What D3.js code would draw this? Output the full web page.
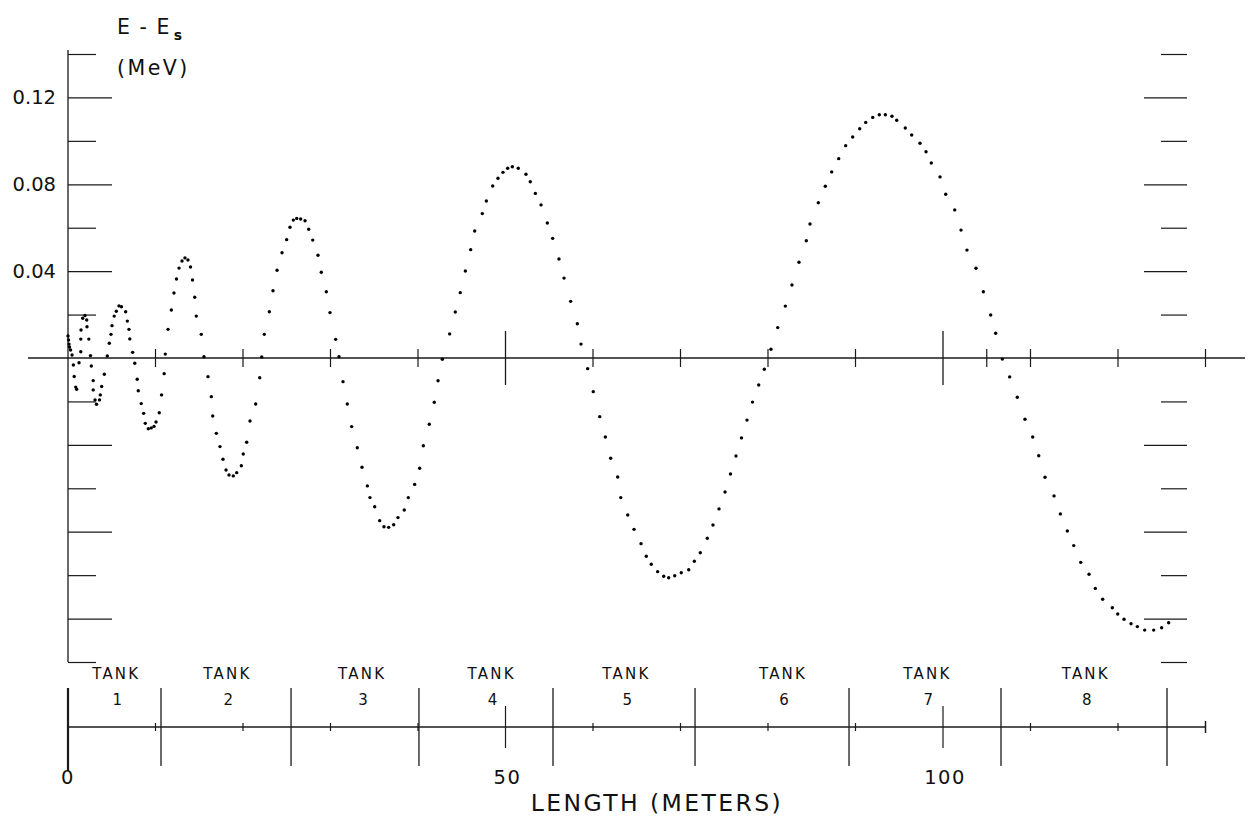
<!DOCTYPE html>
<html><head><meta charset="utf-8">
<script src="https://cdn.jsdelivr.net/npm/d3@7"></script>
<style>
body{margin:0;background:#fff}
svg{display:block}
text{font-family:"DejaVu Sans",sans-serif;fill:#111}
</style>
</head><body>
<svg id="c" width="1251" height="818"></svg>
<script>
// ---- data ----
const lengthM = [0,0.06,0.11,0.17,0.29,0.46,0.61,0.71,0.88,0.99,1.26,1.46,1.46,1.49,1.68,1.94,2.14,2.17,2.38,2.57,2.66,2.88,2.88,3.09,3.26,3.60,3.69,3.85,4.15,4.49,4.72,4.91,5.03,5.28,5.52,5.83,6.11,6.59,6.78,6.97,7.06,7.39,7.63,7.91,8.03,8.37,8.65,8.83,9.18,9.51,9.83,10.06,10.43,10.69,10.99,11.12,11.43,11.81,12.11,12.40,12.69,13.03,13.37,13.71,14.00,14.23,14.48,14.66,15.23,15.54,16.00,16.38,16.54,16.95,17.37,17.71,18.06,18.40,18.89,19.28,19.81,20.03,20.42,20.80,21.45,21.91,22.14,22.43,23.01,23.43,23.89,24.46,24.99,25.37,25.75,26.14,26.59,27.09,27.51,27.97,28.57,28.95,29.52,29.94,30.59,30.97,31.43,31.92,32.42,33.06,33.60,34.21,34.51,35.05,35.62,36.11,36.65,37.22,37.71,38.43,38.89,39.62,40.19,40.61,41.29,41.86,42.29,42.78,43.62,44.26,44.83,45.41,46.02,46.48,47.35,47.81,48.54,49.14,49.71,50.25,50.78,51.46,52.34,52.83,53.41,54.06,54.78,55.39,56.11,56.69,57.45,58.21,58.63,59.39,60.03,60.77,61.41,62.02,62.82,63.17,63.97,64.69,65.49,66.09,66.66,67.39,68.08,68.65,69.34,70.09,70.94,71.58,72.26,73.06,73.71,74.40,75.09,75.71,76.34,76.97,77.60,78.23,78.94,79.58,80.34,81.11,81.98,82.74,83.54,84.38,84.80,85.75,86.55,87.28,88.08,88.88,89.68,90.48,91.17,91.97,92.72,93.41,94.17,94.71,95.69,96.42,97.37,98.06,98.66,99.66,100.31,101.34,102.06,102.74,103.77,104.61,105.45,106.02,106.78,107.62,108.49,109.37,110.25,110.94,111.66,112.69,113.41,114.21,114.94,115.74,116.69,117.41,118.25,119.35,119.97,120.69,121.49,122.21,123.05,124.08,124.99,125.79];
const deltaE = [0.0101,0.0083,0.0064,0.0051,0.0037,0.0014,-0.0032,-0.0085,-0.0134,-0.0144,-0.0022,0.0029,0.0087,0.0129,0.0183,0.0196,0.0175,0.0144,0.0087,0.0011,-0.0037,-0.0104,-0.0147,-0.0193,-0.0213,-0.0193,-0.0170,-0.0131,-0.0075,0.0009,0.0068,0.0109,0.0149,0.0193,0.0215,0.0240,0.0236,0.0213,0.0170,0.0132,0.0088,0.0026,-0.0024,-0.0098,-0.0151,-0.0210,-0.0255,-0.0301,-0.0326,-0.0322,-0.0315,-0.0295,-0.0252,-0.0170,-0.0072,0.0018,0.0132,0.0221,0.0299,0.0364,0.0414,0.0447,0.0461,0.0451,0.0419,0.0359,0.0280,0.0193,0.0109,0.0006,-0.0086,-0.0178,-0.0267,-0.0347,-0.0408,-0.0466,-0.0516,-0.0539,-0.0543,-0.0528,-0.0496,-0.0442,-0.0388,-0.0290,-0.0212,-0.0091,0.0005,0.0109,0.0213,0.0310,0.0404,0.0485,0.0545,0.0602,0.0635,0.0643,0.0640,0.0632,0.0593,0.0543,0.0473,0.0395,0.0305,0.0209,0.0086,0.0006,-0.0109,-0.0212,-0.0316,-0.0413,-0.0503,-0.0589,-0.0643,-0.0685,-0.0749,-0.0777,-0.0780,-0.0768,-0.0735,-0.0700,-0.0643,-0.0582,-0.0508,-0.0404,-0.0305,-0.0204,-0.0105,-0.0006,0.0111,0.0212,0.0301,0.0401,0.0499,0.0585,0.0665,0.0723,0.0792,0.0828,0.0855,0.0874,0.0881,0.0874,0.0846,0.0812,0.0758,0.0705,0.0622,0.0551,0.0456,0.0368,0.0261,0.0158,0.0064,-0.0049,-0.0155,-0.0270,-0.0364,-0.0462,-0.0548,-0.0643,-0.0723,-0.0789,-0.0855,-0.0913,-0.0950,-0.0984,-0.1005,-0.1012,-0.1003,-0.0989,-0.0975,-0.0936,-0.0897,-0.0830,-0.0769,-0.0695,-0.0617,-0.0534,-0.0451,-0.0368,-0.0286,-0.0203,-0.0124,-0.0052,0.0040,0.0140,0.0239,0.0336,0.0441,0.0540,0.0617,0.0715,0.0791,0.0857,0.0918,0.0978,0.1018,0.1056,0.1085,0.1108,0.1120,0.1120,0.1113,0.1095,0.1059,0.1027,0.0989,0.0950,0.0898,0.0834,0.0754,0.0682,0.0589,0.0497,0.0413,0.0305,0.0198,0.0114,-0.0005,-0.0087,-0.0181,-0.0282,-0.0364,-0.0450,-0.0549,-0.0635,-0.0718,-0.0797,-0.0864,-0.0941,-0.0996,-0.1061,-0.1111,-0.1150,-0.1179,-0.1203,-0.1224,-0.1237,-0.1253,-0.1253,-0.1242,-0.1219];

const tankEdges = [0, 10.63, 25.49, 40.11, 55.43, 71.66, 89.26, 106.63, 125.6];
const tankNames = ["1","2","3","4","5","6","7","8"];
const tankLabelCentres = [5.4, 18.1, 33.5, 48.3, 63.7, 81.6, 98.1, 116.2];
const yMajorTicks = [-0.12,-0.08,-0.04,0.04,0.08,0.12];
const yMinorTicks = [-0.14,-0.10,-0.06,-0.02,0.02,0.06,0.10,0.14];
const yTickLabels = [0.04,0.08,0.12];
const xMinorTicks = [10,20,30,40,60,70,80,90,105,110,120,130];
const xMajorTicks = [50,100];
const xTickLabels = [0,50,100];
const tankMinorTicks = [10,20,30,40,60,70,80,90,110,120];

// ---- drawing ----
const svg = d3.select("#c");
const x = d3.scaleLinear().domain([0,130]).range([68,1205.5]);
const y = d3.scaleLinear().domain([-0.14,0.14]).range([662,54]);
const ink = "#1a1a1a";
const y0 = y(0);

// left axis line
svg.append("line").attr("x1",x(0)).attr("x2",x(0)).attr("y1",50).attr("y2",662)
  .attr("stroke",ink).attr("stroke-width",1.3);

function tickAxis(axis, tx, values, size){
  const g = svg.append("g").attr("transform",`translate(${tx},0)`)
    .call(axis(y).tickValues(values).tickSize(size).tickFormat(""));
  g.select(".domain").remove();
  g.selectAll(".tick line").attr("stroke",ink).attr("stroke-width",1.2);
  return g;
}
tickAxis(d3.axisRight, x(0), yMajorTicks, 44);
tickAxis(d3.axisRight, x(0), yMinorTicks, 28);
tickAxis(d3.axisLeft, 1187, yMajorTicks, 43);
tickAxis(d3.axisLeft, 1187, yMinorTicks, 26);

// y labels
svg.selectAll(".ylab").data(yTickLabels).enter().append("text")
  .attr("x",56).attr("y",d=>y(d)+7).attr("text-anchor","end")
  .attr("font-size",19.5).text(d=>d3.format(".2f")(d));

// y title
const t1 = svg.append("text").attr("x",117).attr("y",34).attr("font-size",20.5).attr("letter-spacing",1.5);
t1.append("tspan").text("E - E");
t1.append("tspan").attr("dy",6).attr("dx",3).attr("font-size",14).attr("font-weight","bold").text("s");
svg.append("text").attr("x",117).attr("y",75).attr("font-size",20.5).attr("letter-spacing",2.5).text("(MeV)");

// zero line
svg.append("line").attr("x1",28).attr("x2",1245).attr("y1",y0).attr("y2",y0)
  .attr("stroke",ink).attr("stroke-width",1.4);
svg.selectAll(".xminor").data(xMinorTicks).enter().append("line")
  .attr("x1",d=>x(d)).attr("x2",d=>x(d)).attr("y1",y0-9).attr("y2",y0+9)
  .attr("stroke",ink).attr("stroke-width",1.2);
svg.selectAll(".xmajor").data(xMajorTicks).enter().append("line")
  .attr("x1",d=>x(d)).attr("x2",d=>x(d)).attr("y1",y0-27).attr("y2",y0+27)
  .attr("stroke",ink).attr("stroke-width",1.3);

// dots
svg.selectAll(".dot").data(lengthM.map((v,i)=>[v,deltaE[i]])).enter().append("circle")
  .attr("cx",d=>x(d[0])).attr("cy",d=>y(d[1])).attr("r",1.7).attr("fill","#000");

// tank axis
const ty = 727;
svg.append("line").attr("x1",x(0)).attr("x2",x(130)).attr("y1",ty).attr("y2",ty)
  .attr("stroke",ink).attr("stroke-width",1.3);
svg.selectAll(".tminor").data(tankMinorTicks).enter().append("line")
  .attr("x1",d=>x(d)).attr("x2",d=>x(d)).attr("y1",ty-4).attr("y2",ty+4)
  .attr("stroke",ink).attr("stroke-width",1.2);
svg.append("line").attr("x1",x(130)).attr("x2",x(130)).attr("y1",ty-6).attr("y2",ty+6)
  .attr("stroke",ink).attr("stroke-width",1.5);
svg.selectAll(".tmajor").data(xMajorTicks).enter().append("line")
  .attr("x1",d=>x(d)).attr("x2",d=>x(d)).attr("y1",ty-21).attr("y2",ty+21)
  .attr("stroke",ink).attr("stroke-width",1.2);
svg.selectAll(".tedge").data(tankEdges).enter().append("line")
  .attr("x1",d=>x(d)).attr("x2",d=>x(d)).attr("y1",ty-39).attr("y2",(d,i)=>i===0?ty+44:ty+39)
  .attr("stroke",ink).attr("stroke-width",(d,i)=>i===0?2.2:1.3);

// tank labels
const labs = tankNames.map((n,i)=>[tankLabelCentres[i], n]);
svg.selectAll(".tk").data(labs).enter().append("text")
  .attr("x",d=>x(d[0])+1).attr("y",679).attr("text-anchor","middle")
  .attr("font-size",15).attr("letter-spacing",2.2).text("TANK");
svg.selectAll(".tn").data(labs).enter().append("text")
  .attr("x",d=>x(d[0])+2).attr("y",705).attr("text-anchor","middle")
  .attr("font-size",15).text(d=>d[1]);

// x labels
svg.selectAll(".xl").data(xTickLabels).enter().append("text")
  .attr("x",d=>x(d)+(d===0?0:2)).attr("y",784).attr("text-anchor","middle")
  .attr("font-size",19.5).attr("letter-spacing",1.5).text(d=>d);
svg.append("text").attr("x",657).attr("y",811).attr("text-anchor","middle")
  .attr("font-size",23.5).attr("letter-spacing",2.4).text("LENGTH (METERS)");
</script>
</body></html>
